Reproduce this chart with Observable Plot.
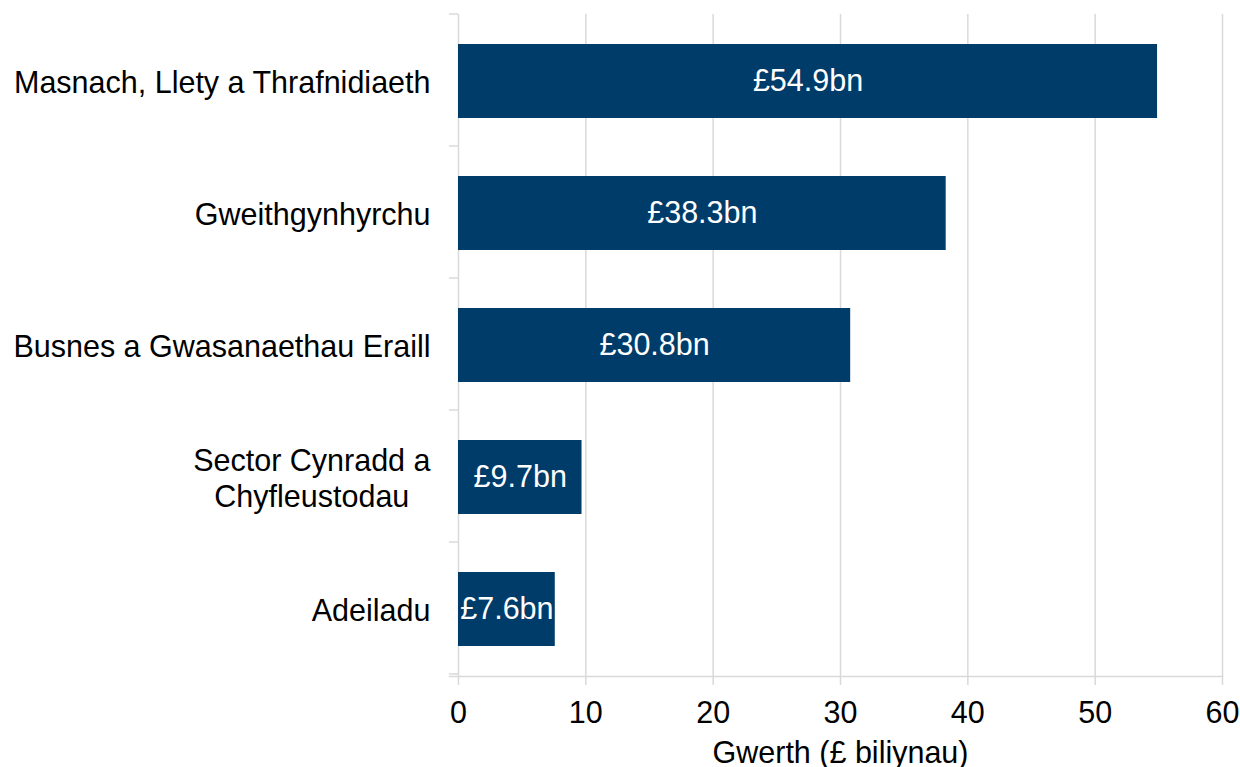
<!DOCTYPE html>
<html><head><meta charset="utf-8">
<script src="https://cdn.jsdelivr.net/npm/d3@7"></script>
<script src="https://cdn.jsdelivr.net/npm/@observablehq/plot@0.6"></script>
<style>html,body{margin:0;padding:0;background:#fff;overflow:hidden}</style>
</head><body><div id="chart"></div>
<script>
const categories = ["Masnach, Llety a Thrafnidiaeth", "Gweithgynhyrchu", "Busnes a Gwasanaethau Eraill", "Sector Cynradd a\nChyfleustodau", "Adeiladu"];
const values = [54.9, 38.3, 30.8, 9.7, 7.6];
const xTicks = [0, 10, 20, 30, 40, 50, 60];
const xLabel = "Gwerth (£ biliynau)";
const data = categories.map((c, i) => ({category: c, value: values[i]}));

const grid = "#d9d9d9";
const barColor = "#003c6a";
const fs = 30.5;
const plot = Plot.plot({
  width: 1240, height: 767,
  marginLeft: 458, marginRight: 18, marginTop: 14, marginBottom: 91,
  style: {fontFamily: "'Liberation Sans', Arial, sans-serif", fontSize: fs + "px", color: "#000", background: "#fff"},
  x: {domain: [0, 60]},
  y: {domain: categories, paddingInner: 0.44, paddingOuter: 0.22, align: 0.5},
  marks: [
    Plot.ruleX(xTicks, {x: d => d, stroke: grid, strokeWidth: 1.5, insetBottom: -9}),
    Plot.frame({anchor: "bottom", stroke: grid, strokeWidth: 1.5, insetLeft: -9}),
    Plot.barX(data, {x: "value", y: "category", fill: barColor}),
    Plot.text(data, {x: d => d.value / 2, y: "category", text: d => `£${d.value.toFixed(1)}bn`, fill: "white", fontSize: fs}),
    Plot.axisX(xTicks, {tickSize: 0, tickPadding: 25, fontSize: fs, label: xLabel, labelAnchor: "center", labelOffset: 86, labelArrow: "none"}),
    Plot.axisY({tickSize: 0, tickPadding: 28, fontSize: fs, label: null, lineHeight: 1.18})
  ]
});
document.getElementById("chart").append(plot);

// category boundary ticks on the left axis
const ys = plot.scale("y");
const x0 = plot.scale("x").apply(0);
const svg = d3.select(plot);
const tickG = svg.append("g").attr("stroke", grid).attr("stroke-width", 1.5);
for (let i = 0; i <= categories.length; i++) {
  const yy = ys.range[0] + i * ys.step;
  tickG.append("line").attr("x1", x0 - 9).attr("x2", x0).attr("y1", yy).attr("y2", yy);
}

// centre multi-line category labels (Excel style)
svg.selectAll('g[aria-label="y-axis tick label"] text').each(function() {
  const tspans = this.querySelectorAll("tspan");
  if (tspans.length > 1) {
    let maxW = 0;
    tspans.forEach(t => { maxW = Math.max(maxW, t.getComputedTextLength()); });
    this.setAttribute("text-anchor", "middle");
    tspans.forEach(t => t.setAttribute("x", -maxW / 2));
  }
});
</script>
</body></html>
